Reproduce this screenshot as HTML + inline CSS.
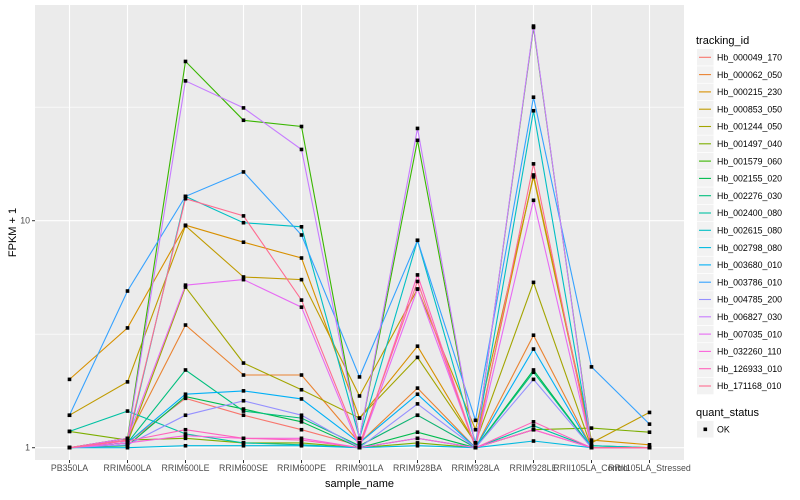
<!DOCTYPE html>
<html><head><meta charset="utf-8"><style>
body{margin:0;background:#fff;}
svg{display:block;font-family:"Liberation Sans",sans-serif;}
</style></head><body>
<svg id="chart" width="800" height="500"></svg>
<script>
const categories=["PB350LA","RRIM600LA","RRIM600LE","RRIM600SE","RRIM600PE","RRIM901LA","RRIM928BA","RRIM928LA","RRIM928LE","RRII105LA_Control","RRII105LA_Stressed"];
const seriesNames=["Hb_000049_170","Hb_000062_050","Hb_000215_230","Hb_000853_050","Hb_001244_050","Hb_001497_040","Hb_001579_060","Hb_002155_020","Hb_002276_030","Hb_002400_080","Hb_002615_080","Hb_002798_080","Hb_003680_010","Hb_003786_010","Hb_004785_200","Hb_006827_030","Hb_007035_010","Hb_032260_110","Hb_126933_010","Hb_171168_010"];
const seriesColors=["#F8766D","#EA8331","#D89000","#C09B00","#A3A500","#7CAE00","#39B600","#00BB4E","#00BF7D","#00C1A3","#00BFC4","#00BAE0","#00B0F6","#35A2FF","#9590FF","#C77CFF","#E76BF3","#FA62DB","#FF62BC","#FF6C91"];
const s00=[1.0,1.05,1.65,1.39,1.2,1.02,1.39,1.0,1.2,1.0,1.0];
const s01=[1.0,1.1,3.47,2.09,2.09,1.05,1.83,1.0,3.13,1.0,1.0];
const s02=[2.0,3.37,9.55,8.04,6.85,1.35,2.8,1.05,15.9,1.08,1.03];
const s03=[1.39,1.95,9.5,5.65,5.5,1.69,5.0,1.2,15.6,1.05,1.43];
const s04=[1.0,1.05,5.1,2.36,1.8,1.35,2.5,1.05,5.35,1.0,1.0];
const s05=[1.18,1.08,1.1,1.05,1.05,1.0,1.05,1.0,1.2,1.22,1.17];
const s06=[1.0,1.1,50.3,27.7,26,1.1,22.6,1.0,71,1.02,1.0];
const s07=[1.0,1.02,1.68,1.48,1.3,1.0,1.17,1.0,2.2,1.0,1.0];
const s08=[1.0,1.05,2.2,1.45,1.35,1.02,1.39,1.0,2.15,1.0,1.0];
const s09=[1.18,1.45,1.15,1.05,1.03,1.0,1.1,1.0,1.25,1.0,1.0];
const s10=[1.0,1.05,12.8,9.8,9.4,1.1,8.2,1.05,30.5,1.02,1.0];
const s11=[1.0,1.0,1.02,1.02,1.02,1.0,1.02,1.0,1.07,1.0,1.0];
const s12=[1.0,1.05,1.72,1.78,1.64,1.05,1.72,1.0,2.72,1.0,1.0];
const s13=[1.39,4.9,12.8,16.4,8.65,2.05,8.2,1.32,35,2.27,1.27];
const s14=[1.0,1.03,1.39,1.61,1.39,1.0,1.56,1.0,2.0,1.0,1.0];
const s15=[1.0,1.08,41.3,31.4,20.6,1.1,25.5,1.0,72,1.0,1.0];
const s16=[1.0,1.1,5.2,5.5,4.16,1.0,5.0,1.0,12.3,1.0,1.0];
const s17=[1.0,1.05,1.13,1.1,1.1,1.0,1.1,1.0,1.2,1.0,1.0];
const s18=[1.0,1.07,1.2,1.1,1.08,1.0,5.77,1.0,1.3,1.0,1.0];
const s19=[1.0,1.08,12.5,10.5,4.47,1.03,5.4,1.0,17.8,1.0,1.0];
const seriesValues=[s00,s01,s02,s03,s04,s05,s06,s07,s08,s09,s10,s11,s12,s13,s14,s15,s16,s17,s18,s19];
const yTicks=[1,10];
const yTickLabels=["1","10"];

const NS="http://www.w3.org/2000/svg";
const svg=document.getElementById("chart");
const P={l:35,r:684,t:5,b:460};
const step=58;
function xs(i){return 69.5+step*i;}
function ys(v){return 447.7-227*Math.log10(v);}
function mk(tag,attrs,parent){const e=document.createElementNS(NS,tag);for(const k in attrs)e.setAttribute(k,attrs[k]);(parent||svg).appendChild(e);return e;}

const panel=mk("rect",{x:P.l,y:P.t,width:P.r-P.l,height:P.b-P.t,fill:"#EBEBEB"});


// minor grid
[Math.sqrt(10),Math.sqrt(1000)].forEach(v=>{
  const g=mk("line",{x1:P.l,x2:P.r,y1:ys(v),y2:ys(v),stroke:"#fff","stroke-width":0.6});
  
  
});
yTicks.forEach((v,i)=>{
  const g=mk("line",{x1:P.l,x2:P.r,y1:ys(v),y2:ys(v),stroke:"#fff","stroke-width":1.1});
  
  
  const tk=mk("line",{x1:P.l-3,x2:P.l,y1:ys(v),y2:ys(v),stroke:"#333","stroke-width":1});
  
  
  const t=mk("text",{x:P.l-5,y:ys(v)+3,"text-anchor":"end","font-size":"8.8",fill:"#4D4D4D"});
  t.textContent=yTickLabels[i];
  
  
});
categories.forEach((c,i)=>{
  const g=mk("line",{x1:xs(i),x2:xs(i),y1:P.t,y2:P.b,stroke:"#fff","stroke-width":1.1});
  
  
  const tk=mk("line",{x1:xs(i),x2:xs(i),y1:P.b,y2:P.b+3,stroke:"#333","stroke-width":1});
  
  
  const t=mk("text",{x:xs(i),y:P.b+11,"text-anchor":"middle","font-size":"8.8",fill:"#4D4D4D"});
  t.textContent=c;
  
  
});
// lines
seriesValues.forEach((arr,si)=>{
  const pts=arr.map((v,i)=>xs(i).toFixed(1)+","+ys(v).toFixed(1)).join(" ");
  const pl=mk("polyline",{points:pts,fill:"none",stroke:seriesColors[si],"stroke-width":1.1});
  
  
});
seriesValues.forEach((arr,si)=>{
  arr.forEach((v,i)=>{
    const r=mk("rect",{x:xs(i)-1.8,y:ys(v)-1.8,width:3.6,height:3.6,fill:"#000"});
    
    
  });
});
const xt=mk("text",{x:(P.l+P.r)/2,y:487,"text-anchor":"middle","font-size":"11",fill:"#000"});
xt.textContent="sample_name";


const yt=mk("text",{x:0,y:0,"text-anchor":"middle","font-size":"11",fill:"#000",transform:"translate(16,"+((P.t+P.b)/2)+") rotate(-90)"});
yt.textContent="FPKM + 1";


// legend
const lt=mk("text",{x:696,y:44,"font-size":"11",fill:"#000"});
lt.textContent="tracking_id";


seriesNames.forEach((n,i)=>{
  const cy=57.3+17.3*i;
  const g=mk("g",{});
  
  
  mk("rect",{x:697,y:cy-8.3,width:16.6,height:16.6,fill:"#F2F2F2"},g);
  mk("line",{x1:699,x2:711,y1:cy,y2:cy,stroke:seriesColors[i],"stroke-width":1.1},g);
  const t=mk("text",{x:717,y:cy+3.2,"font-size":"8.8",fill:"#000"},g);
  t.textContent=n;
});
const qt=mk("text",{x:696,y:416,"font-size":"11",fill:"#000"});
qt.textContent="quant_status";


const qg=mk("g",{});


mk("rect",{x:697,y:421,width:16.6,height:16.6,fill:"#F2F2F2"},qg);
mk("rect",{x:703.5,y:427.5,width:3.6,height:3.6,fill:"#000"},qg);
const qtx=mk("text",{x:717,y:432.5,"font-size":"8.8",fill:"#000"},qg);
qtx.textContent="OK";
</script>
</body></html>
